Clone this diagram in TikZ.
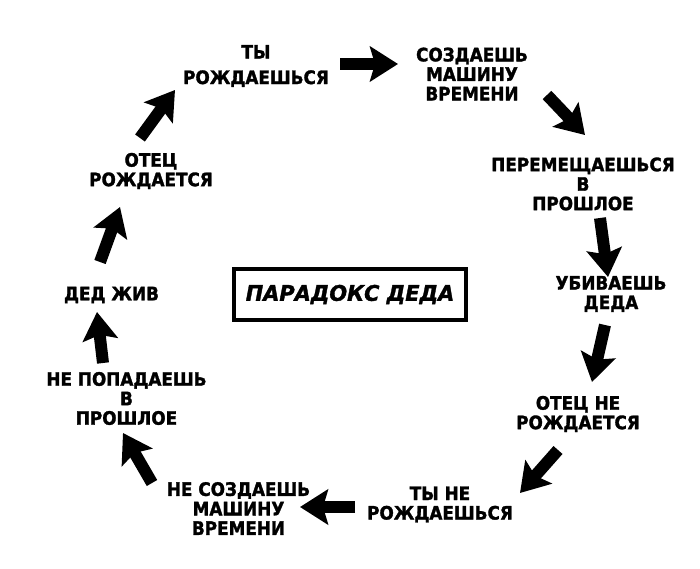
\documentclass[tikz,border=0pt]{standalone}
\usepackage{fontspec}
\setmainfont{DejaVu Sans}[
  BoldFeatures={FakeStretch=0.91, FakeBold=1.6},
  BoldItalicFeatures={FakeStretch=0.97, FakeBold=1.6}]
\usepackage{tikz}
\usetikzlibrary{arrows.meta}

\begin{document}
\begin{tikzpicture}[
  x=1pt, y=1pt,
  stage/.style={font=\bfseries\fontsize{18.5}{19.5}\selectfont, align=center, inner sep=0pt},
  titlebox/.style={draw, line width=3.5pt, minimum width=232pt, minimum height=51pt,
                   inner sep=0pt, font=\bfseries\itshape\fontsize{21.5}{24}\selectfont},
  arr/.style={-{Stealth[length=28pt, width=35pt, inset=5pt]}, line width=12pt}
]
\useasboundingbox[fill=white] (0,0) rectangle (700,568);
\node[titlebox] (title) at (350,273.5) {ПАРАДОКС ДЕДА};
\node[stage] (ty)     at (256,502)   {ТЫ\\[6pt]РОЖДАЕШЬСЯ};
\node[stage] (sozd)   at (472,494)   {СОЗДАЕШЬ\\МАШИНУ\\ВРЕМЕНИ};
\node[stage] (perem)  at (583,384)   {ПЕРЕМЕЩАЕШЬСЯ\\В\\ПРОШЛОЕ};
\node[stage] (ubiv)   at (611,274)   {УБИВАЕШЬ\\ДЕДА};
\node[stage] (otecne) at (578,154)   {ОТЕЦ НЕ\\РОЖДАЕТСЯ};
\node[stage] (tyne)   at (440,63.5)  {ТЫ НЕ\\РОЖДАЕШЬСЯ};
\node[stage] (nesozd) at (238.5,59.5){НЕ СОЗДАЕШЬ\\МАШИНУ\\ВРЕМЕНИ};
\node[stage] (nepop)  at (126.5,169.5){НЕ ПОПАДАЕШЬ\\В\\ПРОШЛОЕ};
\node[stage] (ded)    at (111.5,273) {ДЕД ЖИВ};
\node[stage] (otec)   at (151,397)   {ОТЕЦ\\РОЖДАЕТСЯ};
% the loop
\draw[arr] ([shift={(84pt,2pt)}]ty.center)        -- ([shift={(-74pt,10pt)}]sozd.center);
\draw[arr] ([shift={(75pt,-21pt)}]sozd.center)    -- ([shift={(2pt,49pt)}]perem.center);
\draw[arr] ([shift={(17pt,-34pt)}]perem.center)   -- ([shift={(-3pt,17pt)}]ubiv.center);
\draw[arr] ([shift={(-6pt,-31pt)}]ubiv.center)    -- ([shift={(14pt,32pt)}]otecne.center);
\draw[arr] ([shift={(-20pt,-36pt)}]otecne.center) -- ([shift={(80pt,11.5pt)}]tyne.center);
\draw[arr] ([shift={(-85pt,-2.5pt)}]tyne.center)  -- ([shift={(61.5pt,1.5pt)}]nesozd.center);
\draw[arr] ([shift={(-86.5pt,25.5pt)}]nesozd.center) -- ([shift={(-3.5pt,-34.5pt)}]nepop.center);
\draw[arr] ([shift={(-23.5pt,35.5pt)}]nepop.center)  -- ([shift={(-14.5pt,-17pt)}]ded.center);
\draw[arr] ([shift={(-11.5pt,33pt)}]ded.center)   -- ([shift={(-31pt,-36pt)}]otec.center);
\draw[arr] ([shift={(-11pt,33pt)}]otec.center)    -- ([shift={(-81pt,-24pt)}]ty.center);
\end{tikzpicture}
\end{document}
